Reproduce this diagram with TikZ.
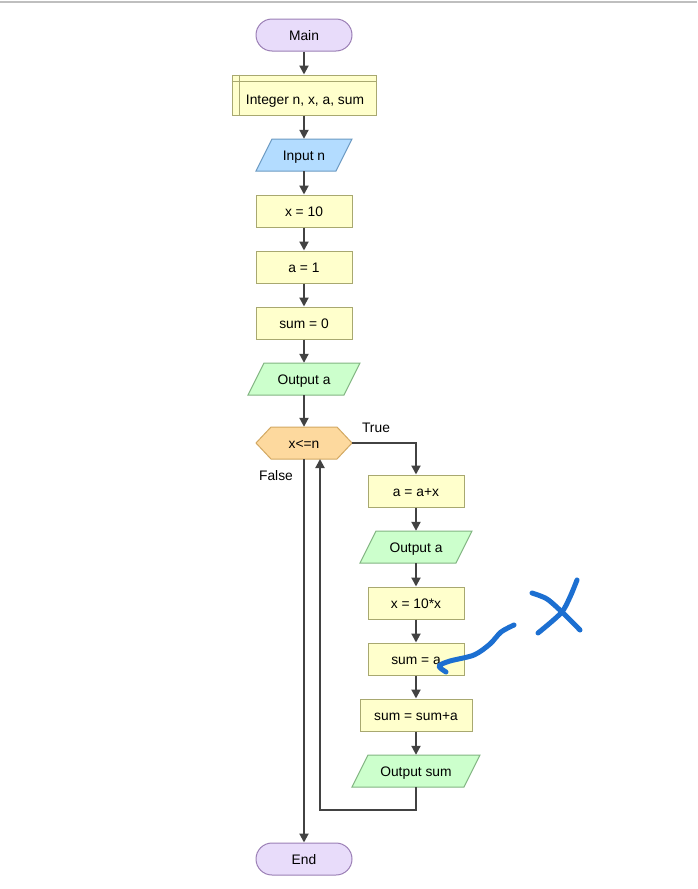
\documentclass[tikz,border=0pt]{standalone}
\usepackage{fontspec}
\setmainfont{Liberation Sans}
\usetikzlibrary{arrows.meta,calc}
\definecolor{termfill}{HTML}{E8DCFA}
\definecolor{termdraw}{HTML}{9B7FB5}
\definecolor{procfill}{HTML}{FFFFCC}
\definecolor{procdraw}{HTML}{A8A870}
\definecolor{infill}{HTML}{B3DCFF}
\definecolor{indraw}{HTML}{6C9AC2}
\definecolor{outfill}{HTML}{CCFFCC}
\definecolor{outdraw}{HTML}{82B582}
\definecolor{decfill}{HTML}{FDD99E}
\definecolor{decdraw}{HTML}{D2A862}
\definecolor{arrcol}{HTML}{424242}
\definecolor{inkblue}{HTML}{1C6FD1}
\newcommand\paranode[6]{%
  \filldraw[#5] (#2-#4/2,#3+16) -- (#2+#4/2-16,#3+16) -- (#2+#4/2,#3-16) -- (#2-#4/2+16,#3-16) -- cycle;
  \node[txt, minimum width=#4-16, minimum height=32] (#1) at (#2,#3) {#6};}
\begin{document}
\begin{tikzpicture}[x=1pt,y=-1pt,
  txt/.style={inner sep=0pt, font=\fontsize{13.8}{15}\selectfont, text=black, text height=10.5pt, text depth=0pt},
  term/.style={txt, draw=termdraw, fill=termfill, line width=1pt, rounded corners=16pt, minimum width=96, minimum height=32},
  proc/.style={txt, draw=procdraw, fill=procfill, line width=1pt, minimum width=96, minimum height=32},
  instyle/.style={draw=indraw, fill=infill, line width=1pt},
  outstyle/.style={draw=outdraw, fill=outfill, line width=1pt},
  arr/.style={draw=arrcol, line width=2pt, -{Triangle[length=9pt,width=9pt]}},
  lbl/.style={txt},
  scribble/.style={draw=inkblue, line width=5pt, line cap=round, line join=round}
]
\useasboundingbox (0,0) rectangle (697,889);
\draw[draw=black!25, line width=2pt] (0,2) -- (697,2);

\node[term] (main) at (304,35) {Main};
\node[proc, minimum width=144, minimum height=40] (decl) at (304,95) {};
\draw[procdraw, line width=1pt] (decl.north west) ++(0,7) -- ++(144,0);
\draw[procdraw, line width=1pt] (decl.north west) ++(8,0) -- ++(0,40);
\node[txt] (decltext) at (305,99) {Integer n, x, a, sum};
\paranode{inn}{304}{155}{96}{instyle}{Input n}
\node[proc] (x10) at (304,211) {x = 10};
\node[proc] (a1) at (304,267) {a = 1};
\node[proc] (sum0) at (304,323) {sum = 0};
\paranode{outa}{304}{379}{112}{outstyle}{Output a}
\filldraw[draw=decdraw, fill=decfill, line width=1pt] (256,443) -- (271,427) -- (337,427) -- (352,443) -- (337,459) -- (271,459) -- cycle;
\node[txt, minimum width=96, minimum height=32] (dec) at (304,443) {x<=n};
\node[lbl] (truel) at (376,427) {True};
\node[lbl] (falsel) at (276,475) {False};
\node[proc] (aax) at (416,491) {a = a+x};
\paranode{outa2}{416}{547}{112}{outstyle}{Output a}
\node[proc] (x10x) at (416,603) {x = 10*x};
\node[proc] (suma) at (416,659) {sum = a};
\node[proc, minimum width=112] (sumsa) at (416,715) {sum = sum+a};
\paranode{osum}{416}{771}{128}{outstyle}{Output sum}
\node[term] (endn) at (304,859) {End};
\coordinate (loopin) at (320,459);

\draw[arr] (main) -- (decl);
\draw[arr] (decl) -- (inn);
\draw[arr] (inn) -- (x10);
\draw[arr] (x10) -- (a1);
\draw[arr] (a1) -- (sum0);
\draw[arr] (sum0) -- (outa);
\draw[arr] (outa) -- (dec);
\draw[arr] (dec.east) -| (aax.north);
\draw[arr] (aax) -- (outa2);
\draw[arr] (outa2) -- (x10x);
\draw[arr] (x10x) -- (suma);
\draw[arr] (suma) -- (sumsa);
\draw[arr] (sumsa) -- (osum);
\draw[arr] (osum.south) -- ++(0,23) -| (loopin);
\draw[arr] (dec.south) -- (endn.north);

\draw[scribble] plot[smooth] coordinates {(446,672) (439,666) (450,661) (474,655) (490,644) (501,632) (514,625)};
\draw[scribble] plot[smooth] coordinates {(532,593) (547,599) (563,613) (580,630)};
\draw[scribble] plot[smooth] coordinates {(577,580) (570,597) (561,613) (538,633)};
\end{tikzpicture}
\end{document}
